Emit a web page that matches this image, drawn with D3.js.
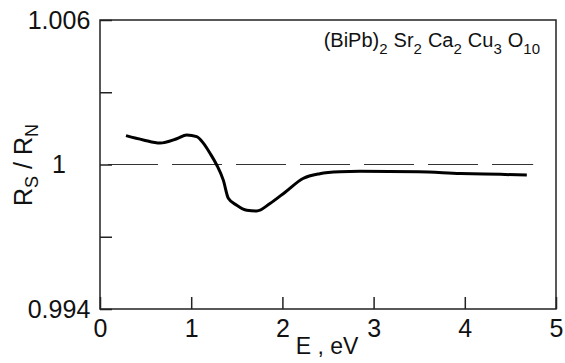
<!DOCTYPE html>
<html>
<head>
<meta charset="utf-8">
<script src="https://cdn.jsdelivr.net/npm/d3@7"></script>
<style>
  body { margin: 0; background: #fff; }
  svg { display: block; font-family: "Liberation Sans", Arial, Helvetica, sans-serif; }
</style>
</head>
<body>
<div id="chart"></div>
<script>
'use strict';

// photon energy (eV) and reflectance ratio Rs/Rn
var energy = [0.285, 0.475, 0.658, 0.841, 0.951, 1.06, 1.133, 1.206, 1.28, 1.352, 1.407, 1.499,
              1.609, 1.718, 1.864, 2.03, 2.226, 2.41, 2.63, 2.85, 3.49, 3.95, 4.39, 4.68];
var ratio  = [1.0012, 1.00102, 1.00089, 1.00107, 1.00123, 1.00116, 1.00089, 1.00047, 0.99998, 0.99935, 0.9986, 0.99831,
              0.9981, 0.99807, 0.99838, 0.99885, 0.99942, 0.99962, 0.9997, 0.99972, 0.9997, 0.99963, 0.99959, 0.99956];

var xTicks = [0, 1, 2, 3, 4, 5];
var yTicks = [0.994, 0.997, 1, 1.003, 1.006];
var yLabels = {0.994: '0.994', 1: '1', 1.006: '1.006'};
var refLineX = [0, 4.75];
var formula = [['(BiPb)', '2'], ['Sr', '2'], ['Ca', '2'], ['Cu', '3'], ['O', '10']];

var myApp = {};

myApp.margins = {top: 20, left: 100};
myApp.cw = 456;
myApp.ch = 289;

myApp.appendSvg = function(div)
{
    var svg = d3.select(div).append('svg')
        .attr('width', 565)
        .attr('height', 363);
    return svg;
}

myApp.buildChart = function(svg)
{
    var g = svg.append('g')
        .attr('transform', 'translate(' + myApp.margins.left + ',' + myApp.margins.top + ')');

    var x = d3.scaleLinear().domain([0, 5]).range([0, myApp.cw]);
    var y = d3.scaleLinear().domain([0.994, 1.006]).range([myApp.ch, 0]);

    // dashed reference at 1
    g.append('line')
        .attr('x1', x(refLineX[0])).attr('x2', x(refLineX[1]))
        .attr('y1', y(1)).attr('y2', y(1))
        .style('stroke', '#333')
        .style('stroke-width', 1)
        .style('stroke-dasharray', '50,14')
        .style('stroke-dashoffset', 56);

    var xAxis = d3.axisBottom(x)
        .tickValues(xTicks)
        .tickFormat(d3.format('d'))
        .tickSizeInner(-12)
        .tickSizeOuter(0)
        .tickPadding(10);

    var gx = g.append('g')
        .attr('transform', 'translate(0,' + myApp.ch + ')')
        .call(xAxis);

    var yAxis = d3.axisLeft(y)
        .tickValues(yTicks)
        .tickFormat(function(d){ return yLabels[d] || ''; })
        .tickSizeInner(-12)
        .tickSizeOuter(0);

    var gy = g.append('g').call(yAxis);

    [gx, gy].forEach(function(a){
        a.select('.domain').remove();
        a.selectAll('.tick line').style('stroke', '#222').style('stroke-width', 1.5);
        a.selectAll('.tick text').style('font-size', '25px').style('fill', '#111');
    });
    gy.selectAll('.tick text').attr('x', -41).attr('text-anchor', 'middle');

    // frame
    g.append('rect')
        .attr('width', myApp.cw).attr('height', myApp.ch)
        .style('fill', 'none')
        .style('stroke', '#222')
        .style('stroke-width', 1.5);

    var line = d3.line()
        .x(function(d){ return x(d[0]); })
        .y(function(d){ return y(d[1]); })
        .curve(d3.curveMonotoneX);

    g.append('path')
        .datum(d3.zip(energy, ratio))
        .attr('d', line)
        .style('fill', 'none')
        .style('stroke', '#000')
        .style('stroke-width', 3)
        .style('stroke-linejoin', 'round');

    // title formula
    var t = svg.append('text')
        .attr('x', 540).attr('y', 47)
        .attr('text-anchor', 'end')
        .style('font-size', '20px')
        .style('fill', '#111');
    formula.forEach(function(p, i){
        t.append('tspan')
            .attr('dy', i == 0 ? 0 : -7)
            .attr('dx', i == 0 ? 0 : 6)
            .text(p[0]);
        t.append('tspan')
            .attr('dy', 7)
            .style('font-size', '15px')
            .text(p[1]);
    });

    // axis titles
    svg.append('text')
        .attr('x', 327).attr('y', 354)
        .attr('text-anchor', 'middle')
        .style('font-size', '23px')
        .style('fill', '#111')
        .text('E , eV');

    var yl = svg.append('text')
        .attr('transform', 'translate(32,165) rotate(-90)')
        .attr('text-anchor', 'middle')
        .style('font-size', '25px')
        .style('fill', '#111');
    yl.append('tspan').text('R');
    yl.append('tspan').attr('dy', 6).style('font-size', '18px').text('S');
    yl.append('tspan').attr('dy', -6).text(' / R');
    yl.append('tspan').attr('dy', 6).style('font-size', '18px').text('N');
}

myApp.run = function()
{
    var svg = myApp.appendSvg('#chart');
    myApp.buildChart(svg);
}

myApp.run();
</script>
</body>
</html>
